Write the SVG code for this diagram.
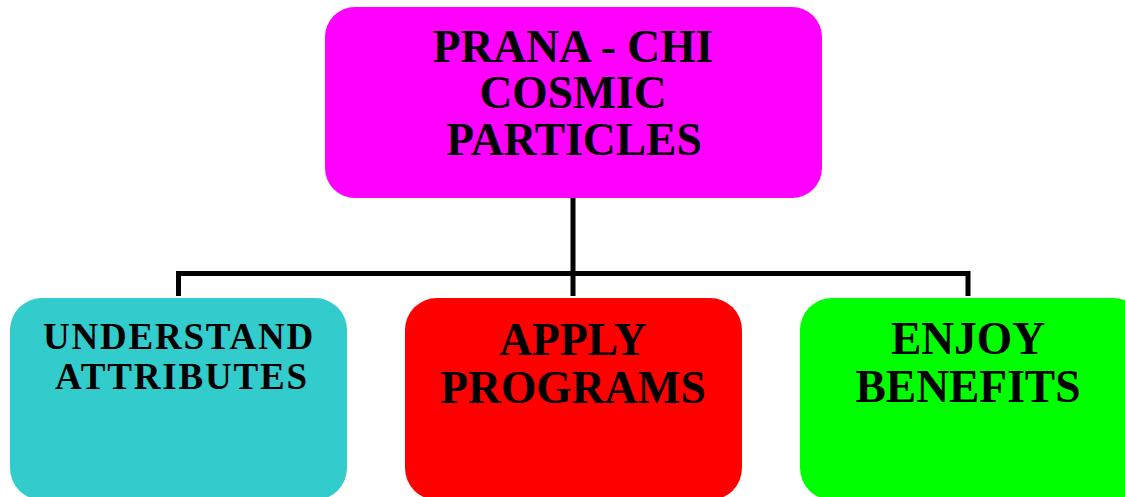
<svg xmlns="http://www.w3.org/2000/svg" width="1125" height="497" viewBox="0 0 1125 497">
<style>
.t{font-family:"Liberation Serif","Times New Roman",serif;font-weight:bold;fill:#000;text-anchor:middle}
.big{font-size:45.5px}
.small{font-size:37px;letter-spacing:1.8px}
.conn{fill:none;stroke:#000;stroke-width:5}
</style>
<rect width="1125" height="497" fill="#fff"/>
<g id="connectors">
<path class="conn" d="M573 198 V296"/>
<path class="conn" d="M178.5 296 V273.5 H968 V296"/>
</g>
<g id="prana">
<rect x="325" y="7" width="497" height="191" rx="30" fill="#FF00FF"/>
<text class="t big" x="573" y="62">PRANA - CHI</text>
<text class="t big" x="573" y="108">COSMIC</text>
<text class="t big" x="574" y="155">PARTICLES</text>
</g>
<g id="understand">
<rect x="10" y="298" width="337" height="202" rx="32" fill="#33CCCC"/>
<text class="t small" x="179" y="349">UNDERSTAND</text>
<text class="t small" x="182" y="389">ATTRIBUTES</text>
</g>
<g id="apply">
<rect x="405" y="298" width="337" height="202" rx="32" fill="#FF0000"/>
<text class="t big" x="573" y="355">APPLY</text>
<text class="t big" x="573" y="403">PROGRAMS</text>
</g>
<g id="enjoy">
<rect x="800" y="298" width="345" height="202" rx="32" fill="#00FF00"/>
<text class="t big" x="968" y="354">ENJOY</text>
<text class="t big" x="968" y="402">BENEFITS</text>
</g>
</svg>
